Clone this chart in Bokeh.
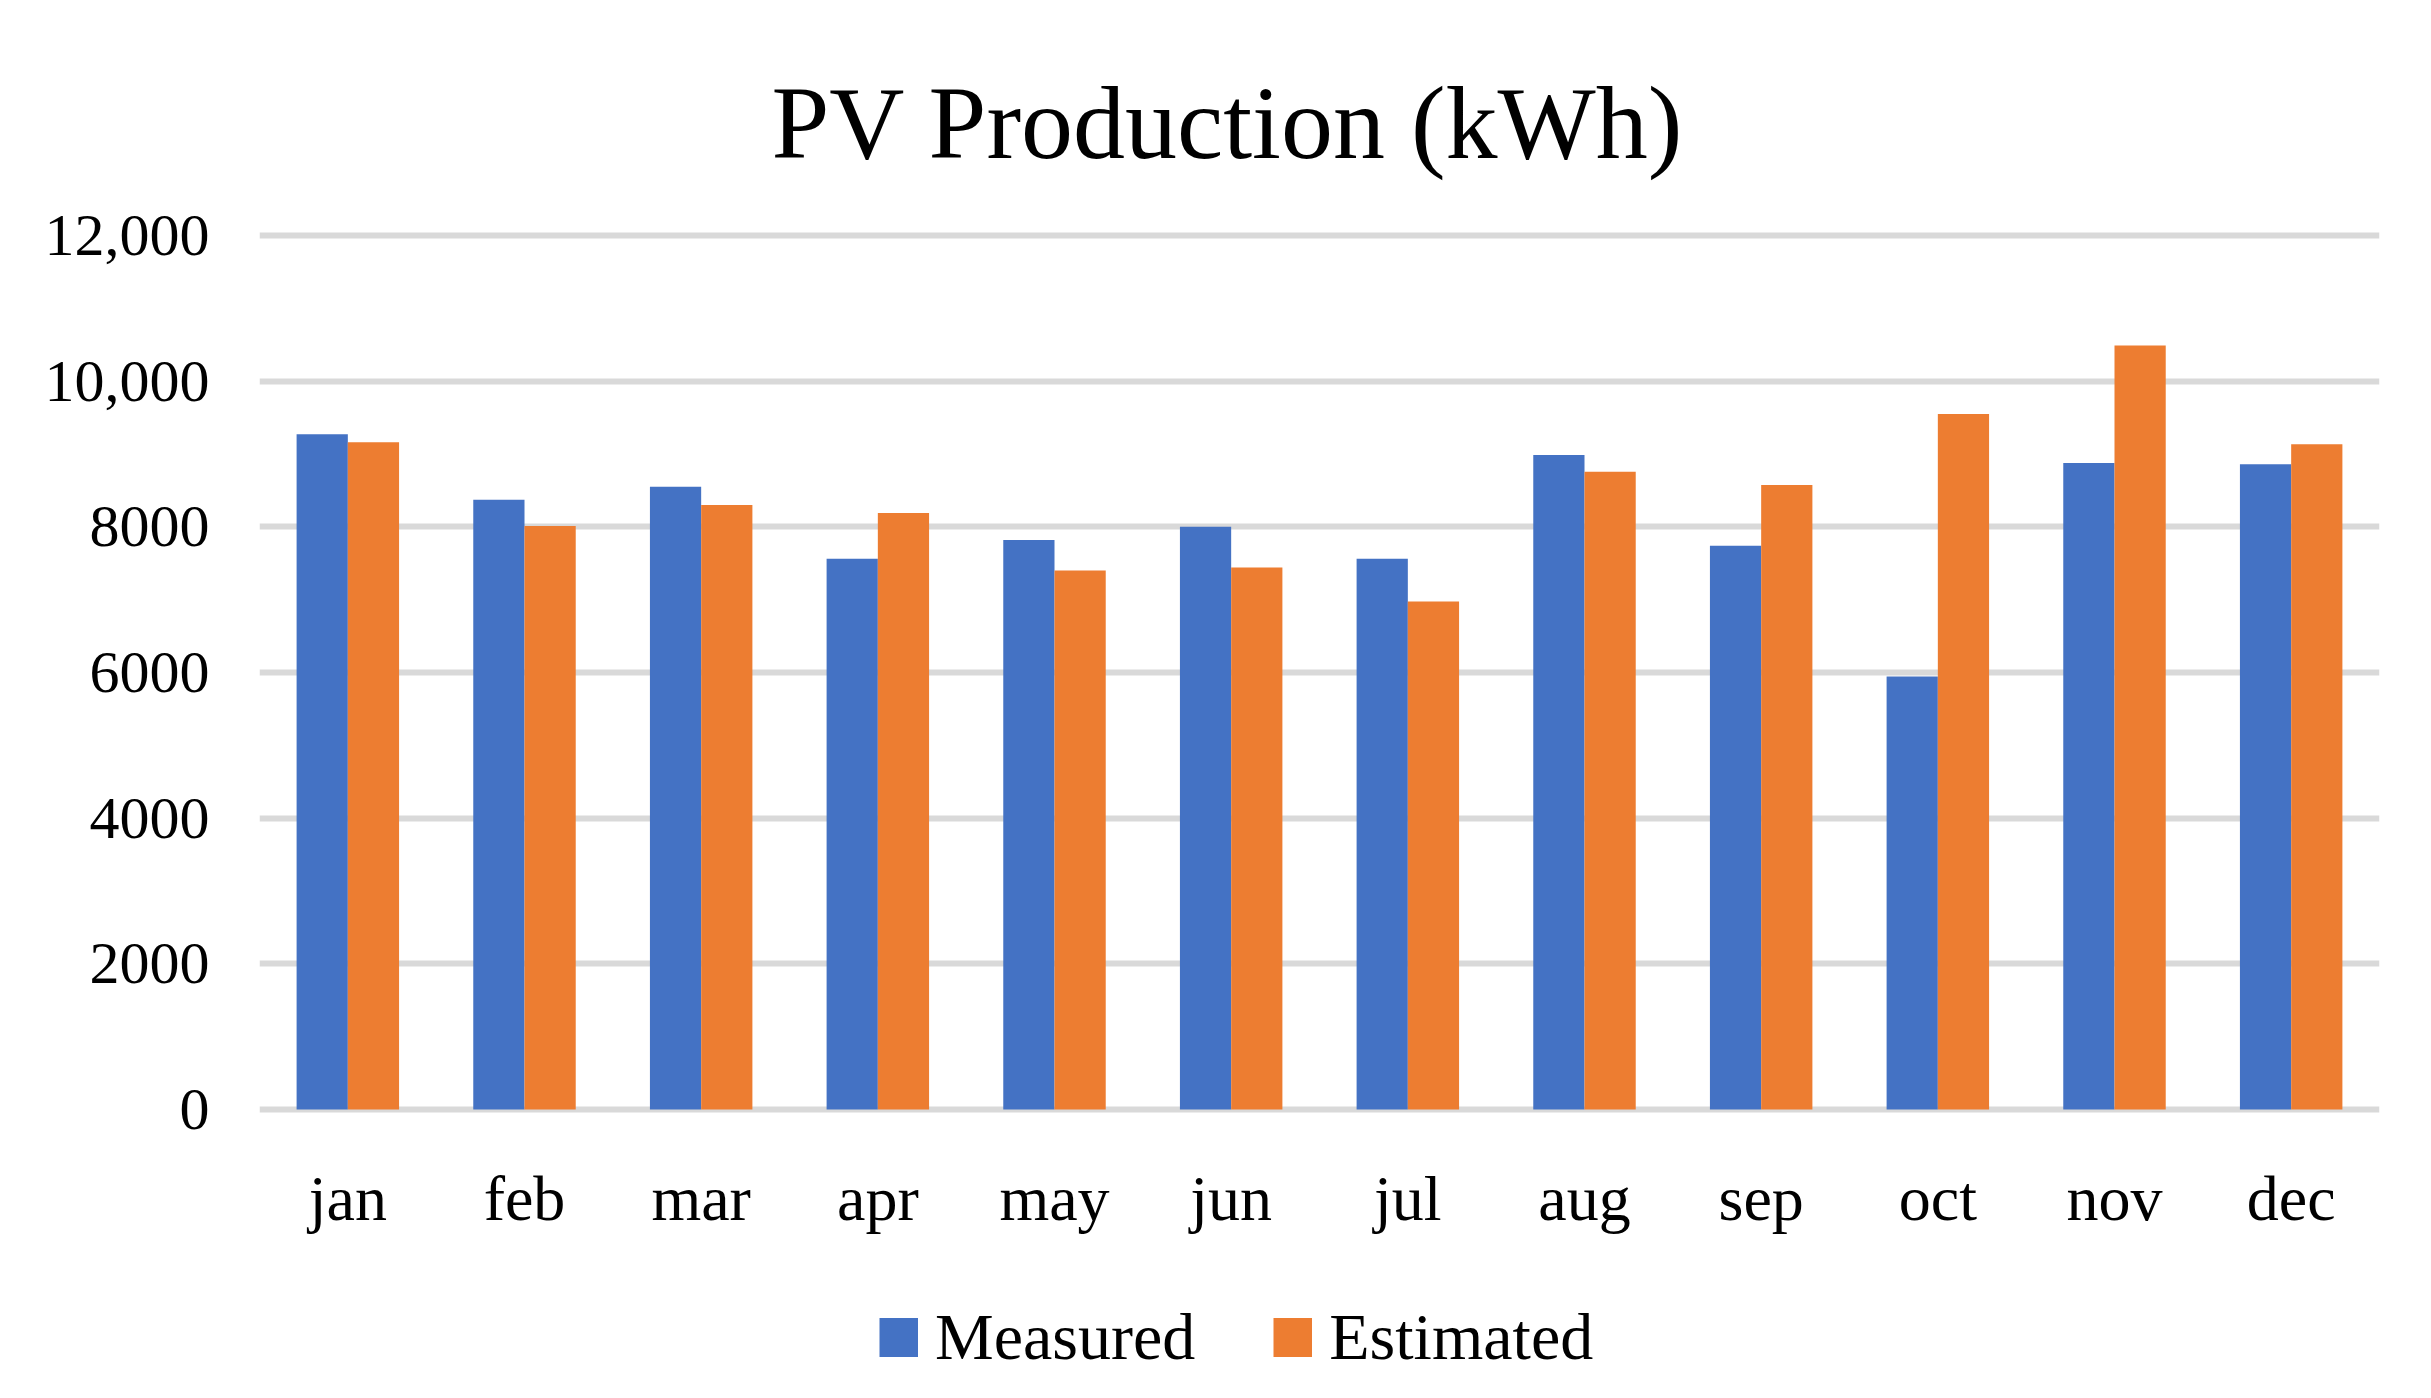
from bokeh.plotting import figure
from bokeh.models import ColumnDataSource, FactorRange, Legend, LegendItem, FixedTicker, Range1d
from bokeh.layouts import column
from bokeh.transform import dodge
from bokeh.embed import file_html
from bokeh.resources import INLINE

months = ["jan", "feb", "mar", "apr", "may", "jun", "jul", "aug", "sep", "oct", "nov", "dec"]
measured = [9270, 8370, 8550, 7560, 7820, 8000, 7560, 8985, 7740, 5945, 8875, 8860]
estimated = [9160, 8010, 8300, 8190, 7400, 7440, 6975, 8755, 8575, 9550, 10490, 9135]
y_ticks = [0, 2000, 4000, 6000, 8000, 10000, 12000]
y_tick_labels = ["0", "2000", "4000", "6000", "8000", "10,000", "12,000"]
title_text = "PV Production (kWh)"
series_names = ["Measured", "Estimated"]

BLUE = "#4472C4"
ORANGE = "#ED7D31"
FONT = "Liberation Serif"

src = ColumnDataSource(dict(month=months, measured=measured, estimated=estimated))

p = figure(width=2415, height=1242, x_range=FactorRange(*months), y_range=(-150, 12150),
           output_backend="svg", toolbar_location=None,
           min_border_left=259, min_border_right=36, min_border_top=224, min_border_bottom=122)
p.outline_line_color = None
p.background_fill_color = "white"
p.border_fill_color = "white"

p.title.text = title_text
p.title.text_font = FONT
p.title.text_font_size = "104px"
p.title.text_font_style = "normal"
p.title.text_color = "black"
p.title.align = "left"
p.title.offset = 512
p.title.standoff = 90

r_m = p.vbar(x=dodge("month", -0.145, range=p.x_range), top="measured", width=0.29, bottom=0,
             source=src, fill_color=BLUE, line_color=None)
r_e = p.vbar(x=dodge("month", 0.145, range=p.x_range), top="estimated", width=0.29, bottom=0,
             source=src, fill_color=ORANGE, line_color=None)

p.xgrid.grid_line_color = None
p.ygrid.grid_line_color = "#D9D9D9"
p.ygrid.grid_line_width = 6
p.yaxis.ticker = FixedTicker(ticks=y_ticks)
p.yaxis.major_label_overrides = {t: l for t, l in zip(y_ticks, y_tick_labels)}

for ax in (p.xaxis, p.yaxis):
    ax.axis_line_color = None
    ax.major_tick_line_color = None
    ax.minor_tick_line_color = None
    ax.major_tick_out = 0
    ax.major_tick_in = 0
    ax.major_label_text_font = FONT
    ax.major_label_text_color = "black"
p.yaxis.major_label_text_font_size = "60px"
p.yaxis.major_label_standoff = 50
p.xaxis.major_label_text_font_size = "64px"
p.xaxis.major_label_standoff = 42

# legend strip below the chart (its frame is aligned with the chart's frame)
lg = figure(width=2415, height=140, x_range=Range1d(0, 1), y_range=Range1d(0, 1),
            output_backend="svg", toolbar_location=None,
            x_axis_location=None, y_axis_location=None,
            min_border_left=0, min_border_right=0, min_border_top=0, min_border_bottom=0)
lg.outline_line_color = None
lg.grid.visible = False
lg.background_fill_color = "white"
lg.border_fill_color = "white"
nan = float("nan")
# thick butt-capped line swatches render as 39px squares in the legend
leg_m = lg.line(x=[nan, nan], y=[nan, nan], line_width=39, line_color=BLUE, line_cap="butt")
leg_e = lg.line(x=[nan, nan], y=[nan, nan], line_width=39, line_color=ORANGE, line_cap="butt")
legend = Legend(items=[LegendItem(label=series_names[0], renderers=[leg_m]),
                       LegendItem(label=series_names[1], renderers=[leg_e])],
                orientation="horizontal", location=(620, -4),
                glyph_width=39, glyph_height=98, label_standoff=17, spacing=78,
                padding=0, margin=0, border_line_color=None, background_fill_alpha=0,
                label_text_font=FONT, label_text_font_size="66px", label_text_color="black")
lg.add_layout(legend)

layout = column(p, lg, spacing=0)
open("out.html", "w").write(file_html(layout, INLINE))
